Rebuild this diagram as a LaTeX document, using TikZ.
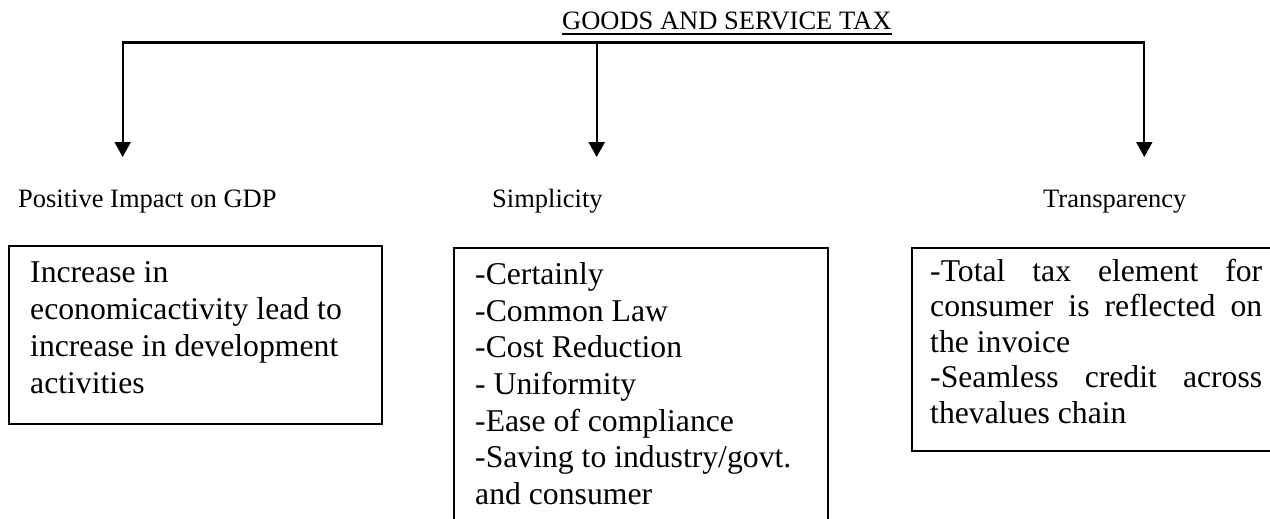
\documentclass[tikz,border=0pt]{standalone}
\usepackage{fontspec}
\setmainfont{Liberation Serif}
\usetikzlibrary{arrows.meta}
\begin{document}
\begin{tikzpicture}[x=1pt,y=-1pt,
  gtip/.tip={Triangle[width=16pt,length=15pt]},
  conn/.style={line width=2.2pt},
  lbl/.style={font=\fontsize{26.5}{30}\selectfont, inner sep=0pt, anchor=base west},
  frame/.style={draw, line width=1.8pt, inner sep=0pt, anchor=north west},
  boxtxt/.style={align=left, inner sep=0pt, anchor=north west}]
\useasboundingbox (0,0) rectangle (1270,519);
\clip (0,0) rectangle (1270,519);

% title
\node[lbl] (title) at (562,30) {GOODS AND SERVICE TAX};
\draw[line width=1.2pt] ([yshift=-4pt]title.base west) -- ([yshift=-4pt]title.base east);

% bracket and arrows
\coordinate (L) at (122.7,42.5);
\coordinate (M) at (596.7,42.5);
\coordinate (R) at (1144.3,42.5);
\coordinate (Ltip) at (122.7,157);
\coordinate (Mtip) at (596.7,157);
\coordinate (Rtip) at (1144.3,157);
\draw[conn, gtip-gtip] (Ltip) -- (L) -- (R) -- (Rtip);
\draw[conn, -gtip] (M) -- (Mtip);

% labels
\node[lbl] (gdp) at (18,207) {Positive Impact on GDP};
\node[lbl] (simp) at (492,207) {Simplicity};
\node[lbl] (trans) at (1043,207) {Transparency};

% boxes
\node[frame, minimum width=373pt, minimum height=178pt] (box1) at (8,245) {};
\node[frame, minimum width=374pt, minimum height=290pt] (box2) at (453,247) {};
\node[frame, minimum width=400pt, minimum height=203pt] (box3) at (911,247) {};

% box texts
\node[boxtxt, font=\fontsize{31.7}{37.2}\selectfont] (t1) at (30,256)
  {\strut Increase in\\economicactivity lead to\\increase in development\\activities};
\node[boxtxt, font=\fontsize{31.7}{36.7}\selectfont] (t2) at (475,258.5)
  {\strut -Certainly\\-Common Law\\-Cost Reduction\\- Uniformity\\-Ease of compliance\\-Saving to industry/govt.\\and consumer};
\node[boxtxt, font=\fontsize{31.7}{35.6}\selectfont] (t3) at (930,256)
  {\strut\makebox[332pt][s]{-Total tax element for}\\\makebox[332pt][s]{consumer is reflected on}\\the invoice\\\makebox[332pt][s]{-Seamless credit across}\\thevalues chain};
\end{tikzpicture}
\end{document}
